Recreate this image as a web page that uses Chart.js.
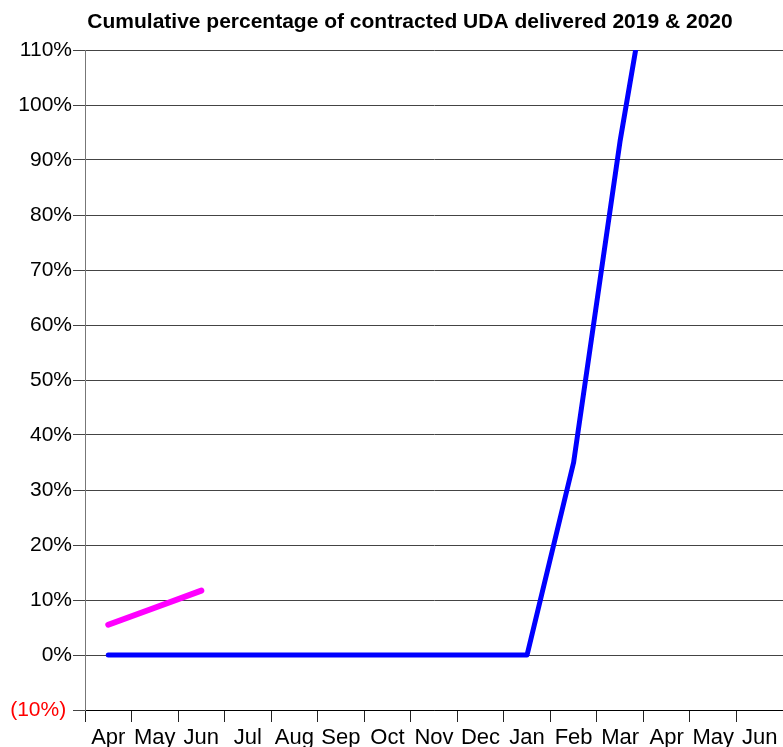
<!DOCTYPE html>
<html>
<head>
<meta charset="utf-8">
<script src="https://cdn.jsdelivr.net/npm/chart.js@4"></script>
<style>
  html, body { margin: 0; padding: 0; background: #fff; }
  #wrap { width: 783px; height: 747px; position: relative; }
</style>
</head>
<body>
<div id="wrap"><canvas id="myChart"></canvas></div>
<script>
// months, April to June of the following year
const months = ["Apr", "May", "Jun", "Jul", "Aug", "Sep", "Oct", "Nov", "Dec", "Jan", "Feb", "Mar", "Apr", "May", "Jun"];
// cumulative % delivered (the 2019 line runs off the top of the scale in Apr)
const uda2019 = [0, 0, 0, 0, 0, 0, 0, 0, 0, 0, 35, 93.5, 143, null, null];
const uda2020 = [5.5, 8.6, 11.7, null, null, null, null, null, null, null, null, null, null, null, null];
const yMin = -10;
const yMax = 110;
const yStep = 10;
const chartTitle = "Cumulative percentage of contracted UDA delivered 2019 & 2020";

const FONT = "Liberation Sans, Arial, sans-serif";

// title sits a bit right of the canvas centre, like the original
const titlePlugin = {
  id: "offsetTitle",
  afterDraw(chart) {
    const c = chart.ctx;
    c.save();
    c.font = "bold 21px " + FONT;
    c.fillStyle = "#000";
    c.textAlign = "center";
    c.textBaseline = "middle";
    c.fillText(chartTitle, 410, 22);
    c.restore();
  },
};

const ctx = document.getElementById("myChart").getContext("2d");
new Chart(ctx, {
  type: "line",
  data: {
    labels: months,
    datasets: [
      {
        label: "2019",
        data: uda2019,
        borderColor: "#0000ff",
        borderWidth: 5,
        borderCapStyle: "round",
        borderJoinStyle: "round",
        pointRadius: 0,
        tension: 0,
      },
      {
        label: "2020",
        data: uda2020,
        borderColor: "#ff00ff",
        borderWidth: 6,
        borderCapStyle: "round",
        borderJoinStyle: "round",
        pointRadius: 0,
        tension: 0,
      },
    ],
  },
  plugins: [titlePlugin],
  options: {
    responsive: true,
    maintainAspectRatio: false,
    animation: false,
    layout: { padding: { left: 0, right: 0, top: 50, bottom: 0 } },
    plugins: {
      legend: { display: false },
      tooltip: { enabled: false },
      title: { display: false },
    },
    scales: {
      x: {
        offset: true,
        grid: {
          offset: true,
          drawOnChartArea: false,
          tickLength: 12,
          color: "#222",
        },
        border: { display: true, color: "#000", width: 1 },
        ticks: {
          color: "#000",
          autoSkip: false,
          maxRotation: 0,
          padding: 3,
          font: { family: FONT, size: 22 },
        },
        afterFit: (scale) => { scale.height = 37; },
      },
      y: {
        min: yMin,
        max: yMax,
        grid: {
          color: "#444",
          tickLength: 12,
        },
        border: { display: true, color: "#777", width: 1 },
        ticks: {
          stepSize: yStep,
          padding: 1,
          font: { family: FONT, size: 21 },
          color: (c) => (c.tick && c.tick.value < 0 ? "#ff0000" : "#000"),
          // accounting style: negatives in brackets, a little left of the others
          callback: (v) => (v < 0 ? "(" + Math.abs(v) + "%) " : v + "%"),
        },
        afterFit: (scale) => { scale.width = 85; },
      },
    },
  },
});
</script>
</body>
</html>
